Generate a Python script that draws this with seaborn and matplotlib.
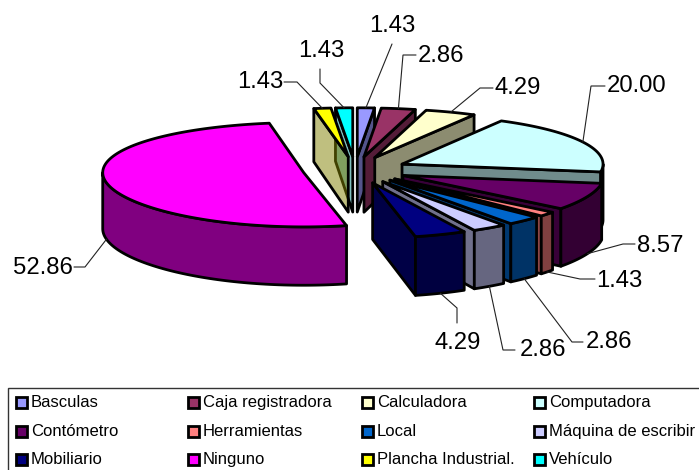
import numpy as np
import matplotlib
matplotlib.use("Agg")
import matplotlib.pyplot as plt
from matplotlib.patches import Rectangle
import seaborn as sns

categories = ["Basculas", "Caja registradora", "Calculadora", "Computadora",
              "Contómetro", "Herramientas", "Local", "Máquina de escribir",
              "Mobiliario", "Ninguno", "Plancha Industrial.", "Vehículo"]
values = [1.43, 2.86, 4.29, 20.00, 8.57, 1.43, 2.86, 2.86, 4.29, 52.86, 1.43, 1.43]
value_labels = ["1.43", "2.86", "4.29", "20.00", "8.57", "1.43", "2.86", "2.86",
                "4.29", "52.86", "1.43", "1.43"]
slice_colors = ["#9999FF", "#993366", "#FFFFCC", "#CCFFFF", "#660066", "#FF8080",
                "#0066CC", "#CCCCFF", "#000080", "#FF00FF", "#FFFF00", "#00FFFF"]

# Layout of the tilted, exploded pie (pixel-based canvas)
CX, CY = 355.0, 170.0
RX, RY = 201.0, 52.0
THICK = 56.0
EXPLODE = 0.26
PERSP = 0.04

# Text centre and elbow points of each leader line
label_pos = [(392, 26), (441, 56), (518, 88), (637, 86), (660, 246), (619, 281),
             (609, 342), (543, 350), (458, 343), (43, 268), (260, 82), (321, 51)]
label_elbow = [[(392, 44)], [(403, 55), (416, 55)], [(480, 88), (493, 88)],
               [(591, 86), (605, 86)], [(623, 244), (635, 244)], [(580, 279), (595, 279)],
               [(572, 342), (583, 342)], [(503, 350), (515, 350)], [(457, 308), (457, 323)],
               [(85, 267), (74, 267)], [(297, 82), (284, 82)], [(320, 83), (320, 69)]]

sns.set_theme(style="white")
plt.rcParams["font.family"] = ["Liberation Sans", "DejaVu Sans"]
palette = sns.color_palette(slice_colors)

fig = plt.figure(figsize=(6.99, 4.70), dpi=100)
ax = fig.add_axes([0, 0, 1, 1])
ax.set_xlim(0, 699)
ax.set_ylim(470, 0)
ax.axis("off")

vals = np.array(values)
edges = np.concatenate([[0], np.cumsum(vals)]) / vals.sum() * 360.0
mids = (edges[:-1] + edges[1:]) / 2


def project(theta_deg, radius, mid_deg, depth=0.0):
    """Screen position of a polar point on an exploded slice; depth 1 is the underside."""
    t = np.radians(theta_deg)
    m = np.radians(mid_deg)
    gx = radius * np.sin(t) + EXPLODE * np.sin(m)
    gy = -radius * np.cos(t) - EXPLODE * np.cos(m)
    scale = 1 + PERSP * gy
    return CX + gx * RX, CY + gy * RY * scale + depth * THICK * scale


def shade(color, factor):
    return tuple(c * factor for c in color)


def face(xs, ys, color, alpha=1.0, z=1):
    # Fill and outline are separate so a see-through fill keeps its solid edge
    ax.fill(xs, ys, facecolor=color, edgecolor="none", alpha=alpha, zorder=z)
    ax.fill(xs, ys, facecolor="none", edgecolor="black", linewidth=2.0,
            joinstyle="round", zorder=z)


# Paint from the back of the pie towards the viewer
order = sorted(range(len(vals)), key=lambda i: -np.cos(np.radians(mids[i])))
for rank, i in enumerate(order):
    a, b, m = edges[i], edges[i + 1], mids[i]
    col = palette[i]
    z = 2 + rank
    ax_x, ax_y = project(0, 0, m)
    _, ax_yb = project(0, 0, m, 1)

    # Radial walls: the leading wall shows on the left half, the trailing one on the right
    if 180 < a < 360:
        rx0, ry0 = project(a, 1, m)
        _, ry1 = project(a, 1, m, 1)
        face([ax_x, rx0, rx0, ax_x], [ax_y, ry0, ry1, ax_yb], shade(col, 0.5), alpha=0.5, z=z)
    if 0 < b < 180:
        rx0, ry0 = project(b, 1, m)
        _, ry1 = project(b, 1, m, 1)
        face([ax_x, rx0, rx0, ax_x], [ax_y, ry0, ry1, ax_yb], shade(col, 0.55), z=z)

    # Outer rim, only where it faces the viewer
    lo, hi = max(a, 90), min(b, 270)
    if lo < hi:
        ts = np.linspace(lo, hi, 80)
        tx, ty = project(ts, 1, m)
        _, by = project(ts, 1, m, 1)
        face(np.r_[tx, tx[::-1]], np.r_[ty, by[::-1]], shade(col, 0.5), z=z)

    # Top surface
    ts = np.linspace(a, b, 120)
    tx, ty = project(ts, 1, m)
    face(np.r_[ax_x, tx], np.r_[ax_y, ty], col, z=z)

# Value labels and their leader lines
for i in range(len(vals)):
    depth = 1 if np.cos(np.radians(mids[i])) < 0 else 0
    sx, sy = project(mids[i], 1, mids[i], depth)
    pts = [(sx, sy)] + label_elbow[i]
    ax.plot(*zip(*pts), color="#222222", lw=0.8, zorder=40, solid_joinstyle="miter")
    ax.text(*label_pos[i], value_labels[i], fontsize=17.2, color="black",
            ha="center", va="center", zorder=41)

# Legend panel, filled row by row
ax.add_patch(Rectangle((8, 388), 720, 110, facecolor="white", edgecolor="#333333",
                       linewidth=1.0, zorder=50))
col_x = [15, 187, 361, 533]
row_y = [402, 431, 459]
for i, name in enumerate(categories):
    x, y = col_x[i % 4], row_y[i // 4]
    ax.add_patch(Rectangle((x + 1, y - 5.5), 11, 11, facecolor=palette[i], edgecolor="black",
                           linewidth=2.0, zorder=51))
    ax.text(x + 16, y + 5, name, fontsize=12, color="black", ha="left", va="baseline", zorder=51)

fig.savefig("out.png", dpi=100)
